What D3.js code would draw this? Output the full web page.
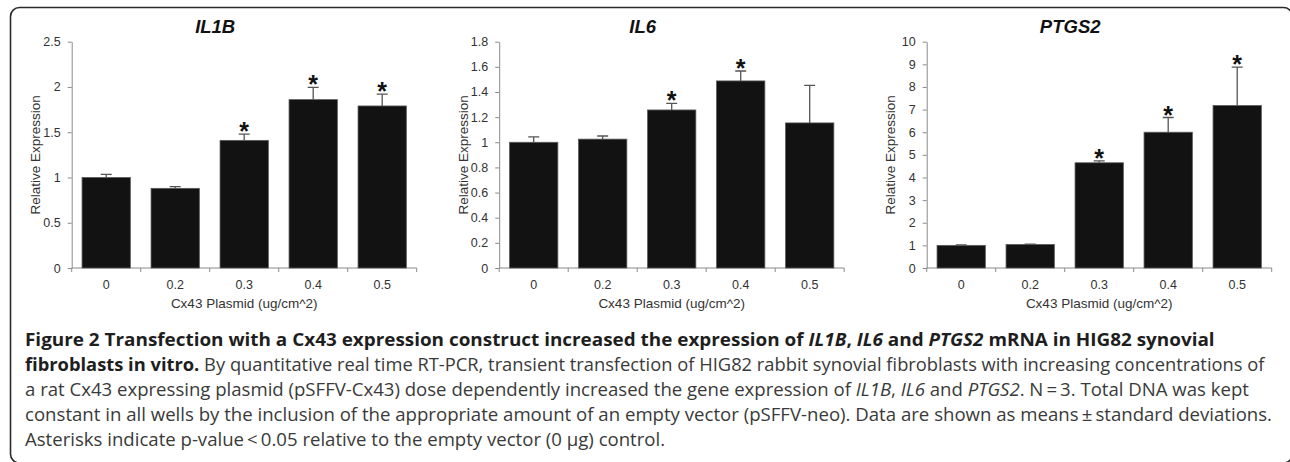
<!DOCTYPE html>
<html>
<head>
<meta charset="utf-8">
<style>
  html, body { margin: 0; padding: 0; background: #fff; }
  svg { display: block; }
</style>
</head>
<body>
<script src="https://d3js.org/d3.v7.min.js"></script>
<script>
    // values
    var categories = ["0", "0.2", "0.3", "0.4", "0.5"]

    var il1bMean = [1.00, 0.88, 1.41, 1.86, 1.79]
    var il1bSd   = [0.035, 0.02, 0.07, 0.135, 0.13]
    var il1bSig  = [false, false, true, true, true]
    var il1bTicks = [0, 0.5, 1, 1.5, 2, 2.5]

    var il6Mean = [1.00, 1.025, 1.257, 1.488, 1.154]
    var il6Sd   = [0.043, 0.025, 0.053, 0.079, 0.299]
    var il6Sig  = [false, false, true, true, false]
    var il6Ticks = [0, 0.2, 0.4, 0.6, 0.8, 1, 1.2, 1.4, 1.6, 1.8]

    var ptgs2Mean = [1.00, 1.04, 4.65, 6.0, 7.18]
    var ptgs2Sd   = [0.02, 0.01, 0.08, 0.65, 1.7]
    var ptgs2Sig  = [false, false, true, true, true]
    var ptgs2Ticks = [0, 1, 2, 3, 4, 5, 6, 7, 8, 9, 10]

    var yTitle = "Relative Expression"
    var xTitle = "Cx43 Plasmid (ug/cm^2)"

    var captionLines = [
        [["Figure 2 Transfection with a Cx43 expression construct increased the expression of ", "b"], ["IL1B", "bi"], [", ", "b"], ["IL6", "bi"], [" and ", "b"], ["PTGS2", "bi"], [" mRNA in HIG82 synovial", "b"]],
        [["fibroblasts in vitro.", "b"], [" By quantitative real time RT-PCR, transient transfection of HIG82 rabbit synovial fibroblasts with increasing concentrations of", ""]],
        [["a rat Cx43 expressing plasmid (pSFFV-Cx43) dose dependently increased the gene expression of ", ""], ["IL1B", "i"], [", ", ""], ["IL6", "i"], [" and ", ""], ["PTGS2", "i"], [". N\u2009=\u20093. Total DNA was kept", ""]],
        [["constant in all wells by the inclusion of the appropriate amount of an empty vector (pSFFV-neo). Data are shown as means\u2009\u00b1\u2009standard deviations.", ""]],
        [["Asterisks indicate p-value\u2009<\u20090.05 relative to the empty vector (0 \u00b5g) control.", ""]]
    ]
    // right end of each printed caption line (null: follow the others)
    var captionEnds = [1216, 1266, 1250, 1273, null]

    var panels = [
        {title: "IL1B",  mean: il1bMean,  sd: il1bSd,  sig: il1bSig,  ticks: il1bTicks},
        {title: "IL6",   mean: il6Mean,   sd: il6Sd,   sig: il6Sig,   ticks: il6Ticks},
        {title: "PTGS2", mean: ptgs2Mean, sd: ptgs2Sd, sig: ptgs2Sig, ticks: ptgs2Ticks}
    ]

    var width = 1290, height = 462
    var chartFont = "'Liberation Sans', Arial, sans-serif"
    var axisGrey = "#8a8a8a"

    var svg = d3.select("body").append("svg")
        .attr("width", width)
        .attr("height", height)

    // figure frame (bottom and right edges fall just outside the crop)
    svg.append("rect")
        .attr("x", 10.5).attr("y", 7.5)
        .attr("width", 1282).attr("height", 455.5)
        .attr("rx", 9)
        .attr("fill", "none")
        .attr("stroke", "#2b2b2b")
        .attr("stroke-width", 1.6)

    panels.forEach(function(p, i) {
        var left = 71.7 + i * 427.5,
            right = left + 345,
            top = 41.7,
            bottom = 268

        var x = d3.scaleBand()
            .domain(categories)
            .range([left, right])
            .paddingInner(0.3)
            .paddingOuter(0.15)

        var y = d3.scaleLinear()
            .domain([0, d3.max(p.ticks)])
            .range([bottom, top])

        var g = svg.append("g")

        // y axis
        var ya = g.append("g")
            .attr("transform", "translate(" + left + ",0)")
            .call(d3.axisLeft(y).tickValues(p.ticks).tickSize(4).tickSizeOuter(0).tickPadding(7).tickFormat(function(d) { return d }))
        ya.select(".domain").attr("stroke", axisGrey)
        ya.selectAll(".tick line").attr("stroke", axisGrey)
        ya.selectAll("text").attr("font-family", chartFont).attr("font-size", 12.5).attr("fill", "#333")

        // x axis line and boundary ticks
        g.append("line")
            .attr("x1", left).attr("x2", right)
            .attr("y1", bottom).attr("y2", bottom)
            .attr("stroke", axisGrey)
        g.selectAll(".xb")
            .data(d3.range(categories.length + 1))
            .enter().append("line")
            .attr("x1", function(k) { return left + k * x.step() })
            .attr("x2", function(k) { return left + k * x.step() })
            .attr("y1", bottom).attr("y2", bottom + 4)
            .attr("stroke", axisGrey)

        var xa = g.append("g")
            .attr("transform", "translate(0," + bottom + ")")
            .call(d3.axisBottom(x).tickSize(0).tickPadding(12.5))
        xa.select(".domain").remove()
        xa.selectAll("text").attr("font-family", chartFont).attr("font-size", 12.5).attr("fill", "#333")

        // bars
        g.selectAll(".bar")
            .data(categories)
            .enter().append("rect")
            .attr("x", function(c) { return x(c) })
            .attr("y", function(c, k) { return y(p.mean[k]) })
            .attr("width", x.bandwidth())
            .attr("height", function(c, k) { return bottom - y(p.mean[k]) })
            .attr("fill", "#121212")
            .attr("stroke", "#5a5a5a")
            .attr("stroke-width", 0.8)

        // upper error whiskers
        var cx = function(c) { return x(c) + x.bandwidth() / 2 }
        g.selectAll(".err")
            .data(categories)
            .enter().append("path")
            .attr("d", function(c, k) {
                var y0 = y(p.mean[k]), y1 = y(p.mean[k] + p.sd[k])
                return "M" + cx(c) + "," + y0 + "V" + y1 + "M" + (cx(c) - 5.5) + "," + y1 + "H" + (cx(c) + 5.5)
            })
            .attr("fill", "none")
            .attr("stroke", "#555")
            .attr("stroke-width", 1.3)

        // significance stars
        g.selectAll(".star")
            .data(categories.filter(function(c, k) { return p.sig[k] }))
            .enter().append("text")
            .attr("x", cx)
            .attr("y", function(c) { var k = categories.indexOf(c); return y(p.mean[k] + p.sd[k]) + 6 })
            .attr("text-anchor", "middle")
            .attr("font-family", chartFont)
            .attr("font-weight", "bold")
            .attr("font-size", 25)
            .attr("fill", "#111")
            .text("*")

        // titles
        g.append("text")
            .attr("x", left + 143.5).attr("y", 33)
            .attr("text-anchor", "middle")
            .attr("font-family", chartFont)
            .attr("font-weight", "bold")
            .attr("font-style", "italic")
            .attr("font-size", 18.5)
            .attr("fill", "#111")
            .text(p.title)

        g.append("text")
            .attr("transform", "translate(" + (left - 36) + "," + ((top + bottom) / 2) + ") rotate(-90)")
            .attr("text-anchor", "middle")
            .attr("dy", "0.35em")
            .attr("font-family", chartFont)
            .attr("font-size", 13.5)
            .attr("fill", "#333")
            .text(yTitle)

        g.append("text")
            .attr("x", (left + right) / 2).attr("y", 308)
            .attr("text-anchor", "middle")
            .attr("font-family", chartFont)
            .attr("font-size", 13.5)
            .attr("fill", "#333")
            .text(xTitle)
    })

    // caption, each line squeezed horizontally to its printed length
    var capX = 25
    var rows = svg.selectAll(".cap")
        .data(captionLines)
        .enter().append("text")
        .attr("class", "cap")
        .attr("x", 0)
        .attr("y", 0)
        .attr("font-family", "'Open Sans', sans-serif")
        .attr("font-size", 18)
        .attr("fill", "#3a3a3a")

    rows.selectAll("tspan")
        .data(function(d) { return d })
        .enter().append("tspan")
        .attr("font-weight", function(s) { return s[1].indexOf("b") >= 0 ? 700 : 400 })
        .attr("font-style", function(s) { return s[1].indexOf("i") >= 0 ? "italic" : "normal" })
        .attr("fill", function(s) { return s[1].indexOf("b") >= 0 ? "#1e1e1e" : null })
        .text(function(s) { return s[0] })

    var scales = rows.nodes().map(function(n, k) {
        return captionEnds[k] ? (captionEnds[k] - capX) / n.getBBox().width : null
    })
    var meanScale = d3.mean(scales.filter(function(s) { return s }))
    rows.attr("transform", function(d, k) {
        return "translate(" + capX + "," + (346 + k * 25) + ") scale(" + (scales[k] || meanScale) + ",1)"
    })
</script>
</body>
</html>
